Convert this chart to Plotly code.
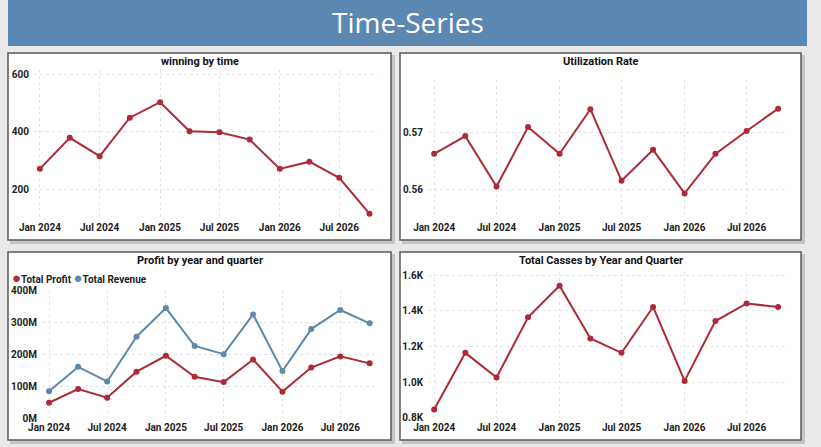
import plotly.graph_objects as go

W, H = 821, 447

quarters = ["2024-01-01", "2024-04-01", "2024-07-01", "2024-10-01",
            "2025-01-01", "2025-04-01", "2025-07-01", "2025-10-01",
            "2026-01-01", "2026-04-01", "2026-07-01", "2026-10-01"]

winning = [271, 379, 315, 449, 503, 402, 398, 373, 271, 296, 240, 115]

utilization = [0.5663, 0.5694, 0.5606, 0.5710, 0.5663, 0.5741,
               0.5616, 0.5670, 0.5594, 0.5663, 0.5703, 0.5742]

total_profit = [48e6, 91e6, 64e6, 146e6, 196e6, 130e6,
                113e6, 184e6, 83e6, 159e6, 194e6, 172e6]
total_revenue = [84e6, 161e6, 115e6, 256e6, 346e6, 227e6,
                 201e6, 326e6, 148e6, 280e6, 340e6, 298e6]

total_cases = [847, 1164, 1026, 1363, 1540, 1245,
               1164, 1421, 1007, 1342, 1441, 1421]

profit_tickvals = [0, 100e6, 200e6, 300e6, 400e6]
profit_ticktext = ["0M", "100M", "200M", "300M", "400M"]
cases_tickvals = [800, 1000, 1200, 1400, 1600]
cases_ticktext = ["0.8K", "1.0K", "1.2K", "1.4K", "1.6K"]

RED = "#ad2a37"
BLUE = "#5f88ab"
FONT = "Roboto"


def px_x(p):
    return p / W


def px_y(p):
    return 1 - p / H


# panel boxes in pixels: (x0, y0, x1, y1)
panels = [
    (8, 53, 391, 240),
    (400, 53, 801, 240),
    (8, 252, 391, 440),
    (400, 252, 801, 440),
]
panel_titles = ["winning by time", "Utilization Rate",
                "Profit by year and quarter", "Total Casses by Year and Quarter"]

# plot areas in pixels: (x0, x1, ytop, ybottom)
plot_areas = [
    (34, 377, 70, 218),
    (428, 786, 80, 218),
    (42, 377, 290, 418),
    (428, 786, 272, 418),
]

fig = go.Figure()

marker = dict(size=6)
line = dict(width=2)

fig.add_trace(go.Scatter(x=quarters, y=winning, mode="lines+markers",
                         line=dict(color=RED, **line), marker=dict(color=RED, **marker),
                         xaxis="x", yaxis="y"))
fig.add_trace(go.Scatter(x=quarters, y=utilization, mode="lines+markers",
                         line=dict(color=RED, **line), marker=dict(color=RED, **marker),
                         xaxis="x2", yaxis="y2"))
fig.add_trace(go.Scatter(x=quarters, y=total_profit, mode="lines+markers", name="Total Profit",
                         line=dict(color=RED, **line), marker=dict(color=RED, **marker),
                         xaxis="x3", yaxis="y3"))
fig.add_trace(go.Scatter(x=quarters, y=total_revenue, mode="lines+markers", name="Total Revenue",
                         line=dict(color=BLUE, **line), marker=dict(color=BLUE, **marker),
                         xaxis="x3", yaxis="y3"))
fig.add_trace(go.Scatter(x=quarters, y=total_cases, mode="lines+markers",
                         line=dict(color=RED, **line), marker=dict(color=RED, **marker),
                         xaxis="x4", yaxis="y4"))

tick_font = dict(family=FONT, size=10, color="#222", weight="bold")
grid = dict(showgrid=True, gridcolor="#e4e4e4", griddash="dot", gridwidth=1,
            zeroline=False, showline=False, ticks="", tickfont=tick_font,
            automargin=False)

x_ranges = [
    ["2023-12-14", "2026-10-24"],
    ["2023-12-14", "2026-10-24"],
    ["2023-12-10", "2026-10-24"],
    ["2023-12-14", "2026-10-24"],
]
y_ranges = [
    [100, 615],
    [0.5551, 0.5792],
    [0, 403e6],
    [799, 1617],
]

layout = {}
for i, (x0, x1, yt, yb) in enumerate(plot_areas):
    sfx = "" if i == 0 else str(i + 1)
    layout["xaxis" + sfx] = dict(
        domain=[px_x(x0), px_x(x1)], anchor="y" + sfx, type="date",
        range=x_ranges[i], tick0="2024-01-01", dtick="M6", tickformat="%b %Y",
        ticklabelstandoff=2, **grid)
    layout["yaxis" + sfx] = dict(
        domain=[px_y(yb), px_y(yt)], anchor="x" + sfx, range=y_ranges[i],
        ticklabelstandoff=4, **grid)

layout["yaxis"]["tickvals"] = [200, 400, 600]
layout["yaxis2"]["tickvals"] = [0.56, 0.57]
layout["yaxis2"]["tickformat"] = ".2f"
layout["yaxis3"]["tickvals"] = profit_tickvals
layout["yaxis3"]["ticktext"] = profit_ticktext
layout["yaxis4"]["tickvals"] = cases_tickvals
layout["yaxis4"]["ticktext"] = cases_ticktext

shapes = []
# header band
shapes.append(dict(type="rect", xref="paper", yref="paper",
                   x0=px_x(8), x1=px_x(807), y0=px_y(46), y1=px_y(0),
                   fillcolor="#5b87b3", line=dict(width=0), layer="below"))
for (x0, y0, x1, y1) in panels:
    # soft shadow
    shapes.append(dict(type="rect", xref="paper", yref="paper",
                       x0=px_x(x0 + 2), x1=px_x(x1 + 4), y0=px_y(y1 + 4), y1=px_y(y0 + 2),
                       fillcolor="#c4c4c4", line=dict(width=0), layer="below"))
    shapes.append(dict(type="rect", xref="paper", yref="paper",
                       x0=px_x(x0), x1=px_x(x1), y0=px_y(y1), y1=px_y(y0),
                       fillcolor="white", line=dict(color="#5a5a5a", width=1.5), layer="below"))

annotations = [dict(text="Time-Series", xref="paper", yref="paper",
                    x=px_x(408), y=px_y(22), xanchor="center", yanchor="middle",
                    showarrow=False,
                    font=dict(family="Open Sans", size=28, color="white"))]
for (x0, y0, x1, y1), title in zip(panels, panel_titles):
    annotations.append(dict(text=title, xref="paper", yref="paper",
                            x=px_x((x0 + x1) / 2), y=px_y(y0 + 8),
                            xanchor="center", yanchor="middle", showarrow=False,
                            font=dict(family=FONT, size=11, color="#111", weight="bold")))

# legend of the profit panel, drawn as text next to coloured dots
dot = '<span style="color:{};font-size:15px">●</span>'
legend_text = dot.format(RED) + "Total Profit " + dot.format(BLUE) + "Total Revenue"
annotations.append(dict(text=legend_text, xref="paper", yref="paper",
                        x=px_x(10), y=px_y(278), xanchor="left", yanchor="middle",
                        showarrow=False,
                        font=dict(family=FONT, size=10, color="#222", weight="bold")))

fig.update_layout(
    width=W, height=H,
    margin=dict(l=0, r=0, t=0, b=0),
    paper_bgcolor="#e9e9e9",
    plot_bgcolor="rgba(0,0,0,0)",
    showlegend=False,
    shapes=shapes,
    annotations=annotations,
    **layout,
)

fig.write_html("out.html", config={"displayModeBar": False},
               post_script="document.body.style.margin='0';")
